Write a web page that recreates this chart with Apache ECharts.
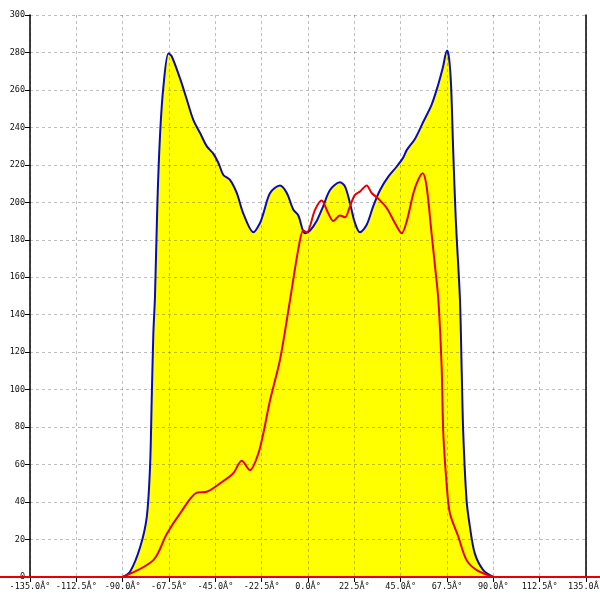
<!DOCTYPE html>
<html>
<head>
<meta charset="utf-8">
<script src="https://cdn.jsdelivr.net/npm/echarts@6/dist/echarts.min.js"></script>
<style>html,body{margin:0;padding:0;background:#fff}#c{width:600px;height:600px}</style>
</head>
<body>
<div id="c"></div>
<script>
// Angle (degrees) and intensity for the blue/yellow curve
var blueX = [-90, -86.4, -81.5, -78.3, -76.7, -75.9, -75.1, -74.3, -73.1, -71.8, -70.2, -67.8, -66.2, -62.1, -58.9, -55.7, -52.4, -49.2, -46, -43.5, -41.1, -37.9, -34.6, -31.4, -26.5, -23.3, -21.7, -18.4, -13.6, -10.3, -7.1, -4.7, -1.5, 1, 4.2, 7.4, 10.7, 15.5, 18, 20.4, 22.8, 25.2, 28.5, 31.7, 35, 39, 43, 46.3, 48, 52, 56, 60, 63, 65.5, 67.5, 68.5, 69.5, 70.5, 71.8, 73.8, 74.6, 75.4, 77, 78.6, 81, 85.1, 90];
var blueY = [0, 2.8, 16, 32, 59, 94.5, 130, 150, 201, 237, 262, 279.5, 278, 266, 255, 244, 237, 230, 226, 221, 214.6, 212, 205, 194, 184, 189, 194, 205, 209, 205, 196, 193, 183.5, 185, 190, 198, 206.6, 210.7, 208.4, 199.5, 189, 184, 188, 198, 206.6, 213.7, 219, 224, 228, 234, 243, 252, 262, 272, 281, 277, 262, 228, 190, 148, 112, 76.7, 41, 27, 12.6, 3.7, 0];

// Angle (degrees) and intensity for the red curve
var redX = [-90, -75.1, -68.6, -62.1, -54, -49.2, -42.7, -36.3, -32.2, -28.2, -24.1, -21.7, -18.4, -13.6, -8.7, -4.7, -2.3, -0.6, 3.4, 6.6, 9.9, 12.3, 15.5, 18, 20.4, 22.8, 25.2, 28.5, 30.9, 34.1, 38.2, 42.2, 45.5, 47.9, 51.2, 53.5, 55.7, 57.6, 60, 61.7, 63.3, 64.9, 65.7, 67.3, 68.9, 73, 77, 81.9, 90];
var redY = [0, 9, 23, 34, 45, 45.5, 50, 55.4, 62, 57, 66, 76.7, 94.5, 116, 148, 175, 185, 184, 196, 201, 194, 190, 193, 192, 198, 204, 205.7, 209, 205, 202, 197, 189, 183.5, 189.7, 205, 212, 215.5, 208.4, 183.5, 165.7, 148, 112, 76.7, 50, 34, 21.5, 9, 3.7, 0];

var xTickLabels = ['-135.0Â°', '-112.5Â°', '-90.0Â°', '-67.5Â°', '-45.0Â°', '-22.5Â°', '0.0Â°', '22.5Â°', '45.0Â°', '67.5Â°', '90.0Â°', '112.5Â°', '135.0Â°'];
var yTickLabels = ['0', '20', '40', '60', '80', '100', '120', '140', '160', '180', '200', '220', '240', '260', '280', '300'];

function zip(xs, ys) { return xs.map(function (x, i) { return [x, ys[i]]; }); }

var FONT = 'DejaVu Sans Mono';
var grid = 'rgba(0,0,0,0.25)';

var chart = echarts.init(document.getElementById('c'), null, { renderer: 'canvas' });
chart.setOption({
  animation: false,
  backgroundColor: '#fff',
  grid: { left: 30, right: 14, top: 15, bottom: 23, containLabel: false, outerBoundsMode: 'none' },
  xAxis: {
    type: 'value', min: -135, max: 135, interval: 22.5, z: 2,
    axisLine: { show: true, onZero: false, lineStyle: { color: '#e60000', width: 2 } },
    axisTick: { show: true, length: 5, lineStyle: { color: '#000', width: 1 } },
    axisLabel: {
      margin: 5, fontFamily: FONT, fontSize: 8.5, color: '#111',
      showMinLabel: true, showMaxLabel: true, hideOverlap: false,
      formatter: function (v) { return xTickLabels[Math.round((v + 135) / 22.5)]; }
    },
    splitLine: { show: true, lineStyle: { color: grid, type: [3, 3], width: 1 } }
  },
  yAxis: [{
    type: 'value', min: 0, max: 300, interval: 20, z: 2, position: 'left',
    axisLine: { show: true, onZero: false, lineStyle: { color: '#000', width: 1.5 } },
    axisTick: { show: true, length: 5, lineStyle: { color: '#000', width: 1 } },
    axisLabel: {
      margin: 5, fontFamily: FONT, fontSize: 8.5, color: '#111',
      showMinLabel: true, showMaxLabel: true,
      formatter: function (v) { return yTickLabels[Math.round(v / 20)]; }
    },
    splitLine: { show: true, lineStyle: { color: grid, type: [3, 3], width: 1 } }
  }, {
    type: 'value', min: 0, max: 300, interval: 20, position: 'right', z: 2,
    axisLine: { show: true, onZero: false, lineStyle: { color: '#000', width: 1.5 } },
    axisTick: { show: false }, axisLabel: { show: false }, splitLine: { show: false }
  }],
  series: [{
    type: 'line', name: 'fill', z: 1, smooth: 0.3, symbol: 'none',
    data: zip(blueX, blueY),
    lineStyle: { width: 0 },
    areaStyle: { color: '#ffff00', opacity: 1 }
  }, {
    type: 'line', name: 'blue', z: 3, smooth: 0.3, symbol: 'none',
    data: zip(blueX, blueY),
    lineStyle: { color: '#0a0ab8', width: 2 }
  }, {
    type: 'line', name: 'red', z: 4, smooth: 0.3, symbol: 'none',
    data: zip(redX, redY),
    lineStyle: { color: '#e60000', width: 2 }
  }]
});
var y0 = chart.convertToPixel({ gridIndex: 0 }, [0, 0])[1];
chart.setOption({
  graphic: [{
    type: 'line', z: 5, silent: true,
    shape: { x1: 0, y1: y0, x2: 600, y2: y0 },
    style: { stroke: '#e60000', lineWidth: 2 }
  }]
});
</script>
</body>
</html>
